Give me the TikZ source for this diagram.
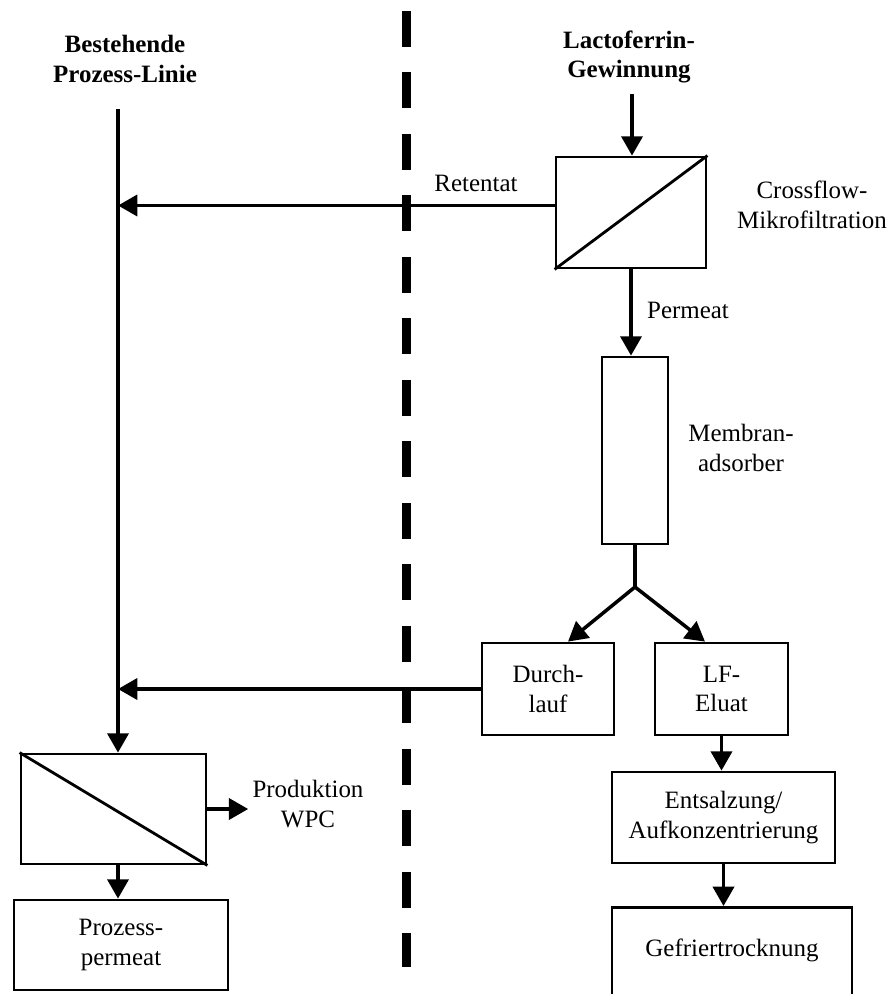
\documentclass[tikz,border=0pt]{standalone}
\usepackage{fontspec}
\setmainfont{Liberation Serif}
\usetikzlibrary{arrows.meta}

\begin{document}
\begin{tikzpicture}[x = 0.02cm, y = -0.02cm,
    font = \fontsize{14.2}{17}\selectfont,
    box/.style = {draw, line width = 1.6pt, align = center, inner sep = 0.1cm},
    flow/.style = {line width = 2pt, -{Triangle[length = 11pt, width = 12pt]}},
    pipe/.style = {line width = 2pt},
    txt/.style = {align = center, inner sep = 0.08cm},
    head/.style = {txt, font = \fontsize{14.2}{17}\selectfont\bfseries}]
    \clip (0,0) rectangle (888,994);

    % Trennlinie
    \draw[line width = 0.18cm, dash pattern = on 0.72cm off 0.51cm] (406.5,11) -- (406.5,967);

    % Ueberschriften
    \node[head] (bpl) at (125,59) {Bestehende\\Prozess-Linie};
    \node[head] (lfg) at (629,57) {Lactoferrin-\\Gewinnung};

    % linke Seite
    \coordinate (lin) at (118,109);
    \node[box, minimum width = 3.7cm, minimum height = 2.2cm] (mf) at (113.5,809) {};
    \draw[line width = 1.6pt] (mf.north west) -- (mf.south east);
    \node[box, minimum width = 4.28cm, minimum height = 1.8cm] (pp) at (121,945) {Prozess-\\permeat};
    \node[txt] (wpc) at (308,804) {Produktion\\WPC};

    % rechte Seite
    \coordinate (zul) at (632,94);
    \node[box, minimum width = 3cm, minimum height = 2.22cm] (cmf) at (631,212.5) {};
    \draw[line width = 1.6pt] (cmf.south west) -- (cmf.north east);
    \node[txt] (cmft) at (812,205) {Crossflow-\\Mikrofiltration};
    \node[txt] (ret) at (476,183) {Retentat};
    \node[txt] (perm) at (688,310) {Permeat};
    \node[box, minimum width = 1.32cm, minimum height = 3.74cm] (mad) at (635,450.5) {};
    \node[txt] (madt) at (741,448) {Membran-\\adsorber};
    \coordinate (br) at (635,587);
    \node[box, minimum width = 2.64cm, minimum height = 1.84cm] (dl) at (548,689) {Durch-\\lauf};
    \node[box, minimum width = 2.66cm, minimum height = 1.84cm] (lf) at (721.5,689) {LF-\\Eluat};
    \node[box, minimum width = 4.46cm, minimum height = 1.82cm] (ent) at (723.5,817.5) {Entsalzung/\\Aufkonzentrierung};
    \node[box, minimum width = 4.8cm, anchor = north, text height = 0.88cm, text depth = 2cm] (gt) at (732,906) {Gefriertrocknung};

    % Stroeme
    \coordinate (retx) at ([yshift = 0.14cm]cmf.west);
    \draw[flow] (zul) -- (zul |- cmf.north);
    \draw[flow] (retx) -- (retx -| lin);
    \draw[flow] (cmf.south) -- (cmf.south |- mad.north);
    \draw[pipe] (mad.south) -- (br);
    \draw[flow] (br) -- ([xshift = 0.4cm]dl.north);
    \draw[flow] (br) -- ([xshift = -0.33cm]lf.north);
    \draw[flow] (dl.west) -- (dl.west -| lin);
    \draw[flow] (lf.south) -- (lf.south |- ent.north);
    \draw[flow] (ent.south) -- (ent.south |- gt.north);

    \draw[flow] (lin) -- (lin |- mf.north);
    \draw[flow] (lin |- mf.south) -- (lin |- pp.north);
    \draw[flow] (mf.east) -- (mf.east -| wpc.west);

\end{tikzpicture}
\end{document}
